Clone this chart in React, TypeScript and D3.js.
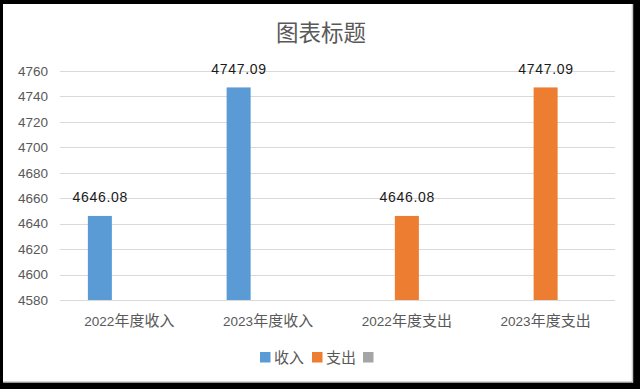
import React from "react";
import * as d3 from "d3";

const categories = ["2022年度收入", "2023年度收入", "2022年度支出", "2023年度支出"];
const seriesNames = ["收入", "支出", ""];
const incomeValues = [4646.08, 4747.09, null, null];
const expenseValues = [null, null, 4646.08, 4747.09];
const otherValues = [null, null, null, null];
const yTicks = [4580, 4600, 4620, 4640, 4660, 4680, 4700, 4720, 4740, 4760];
const colors = ["#5B9BD5", "#ED7D31", "#A5A5A5"];
const title = "图表标题";

const W = 640, H = 389;
const plotL = 60, plotR = 615, plotT = 71, plotB = 300;

function MixedText({ text, x, y, anchor, fill, digitSize, cjkSize }: any) {
  const parts = text.match(/[\u4e00-\u9fff]+|[^\u4e00-\u9fff]+/g) || [];
  return (
    <text x={x} y={y} textAnchor={anchor} fill={fill}>
      {parts.map((p: string, i: number) => {
        const cjk = /[\u4e00-\u9fff]/.test(p);
        return (
          <tspan key={i} fontFamily={cjk ? "'Noto Sans CJK SC'" : "'Liberation Sans', Arial"} fontSize={cjk ? cjkSize : digitSize}>
            {p}
          </tspan>
        );
      })}
    </text>
  );
}

export default function App() {
  const y = d3.scaleLinear().domain([4580, 4760]).range([plotB, plotT]);
  const x0 = d3.scaleBand<string>().domain(categories).range([plotL, plotR]).padding(0);
  const groupW = 83;
  const off = (x0.bandwidth() - groupW) / 2;
  const x1 = d3.scaleBand<string>().domain(["s0", "s1", "s2"]).range([off, off + groupW]).paddingInner(0.186).paddingOuter(0);
  const series = [incomeValues, expenseValues, otherValues];

  const legendItems = [
    { name: seriesNames[0], x: 260 },
    { name: seriesNames[1], x: 312 },
    { name: seriesNames[2], x: 363 },
  ];

  return (
    <svg width={W} height={H} style={{ position: "fixed", left: 0, top: 0, display: "block" }}>
      <rect x={0} y={0} width={W} height={H} fill="#000" />
      <rect x={3} y={4} width={629} height={378} fill="#fff" />
      <line x1={632.5} y1={4} x2={632.5} y2={382.5} stroke="#c8c8c8" strokeWidth={1.5} />
      <line x1={3} y1={382} x2={633} y2={382} stroke="#c8c8c8" strokeWidth={1.5} />

      <text x={321} y={41} textAnchor="middle" fontFamily="'Noto Sans CJK SC'" fontSize={22.5} fill="#595959">
        {title}
      </text>

      {yTicks.map((t) => (
        <g key={t}>
          <line x1={plotL} x2={plotR} y1={Math.round(y(t)) + 0.5} y2={Math.round(y(t)) + 0.5} stroke="#D9D9D9" strokeWidth={1} />
          <text x={48} y={y(t) + 4.8} textAnchor="end" fontFamily="'Liberation Sans', Arial" fontSize={13.5} fill="#595959">
            {t}
          </text>
        </g>
      ))}

      {categories.map((c, ci) =>
        series.map((vals, si) => {
          const v = vals[ci];
          if (v == null) return null;
          const bx = (x0(c) as number) + (x1("s" + si) as number);
          const bw = x1.bandwidth();
          return (
            <g key={c + si}>
              <rect x={bx} y={y(v)} width={bw} height={plotB - y(v)} fill={colors[si]} />
              <text x={bx + bw / 2 + 0.4} y={y(v) - 13.5} textAnchor="middle" fontFamily="'Liberation Sans', Arial" fontSize={14} letterSpacing={0.7} fill="#1a1a1a">
                {v.toFixed(2)}
              </text>
            </g>
          );
        })
      )}

      {categories.map((c) => (
        <MixedText key={c} text={c} x={(x0(c) as number) + x0.bandwidth() / 2} y={326} anchor="middle" fill="#595959" digitSize={13.5} cjkSize={15} />
      ))}

      {legendItems.map((it, i) => (
        <g key={i}>
          <rect x={it.x} y={352} width={10.5} height={10.5} fill={colors[i]} />
          {it.name && (
            <text x={it.x + 14} y={363} fontFamily="'Noto Sans CJK SC'" fontSize={15} fill="#595959">
              {it.name}
            </text>
          )}
        </g>
      ))}
    </svg>
  );
}
